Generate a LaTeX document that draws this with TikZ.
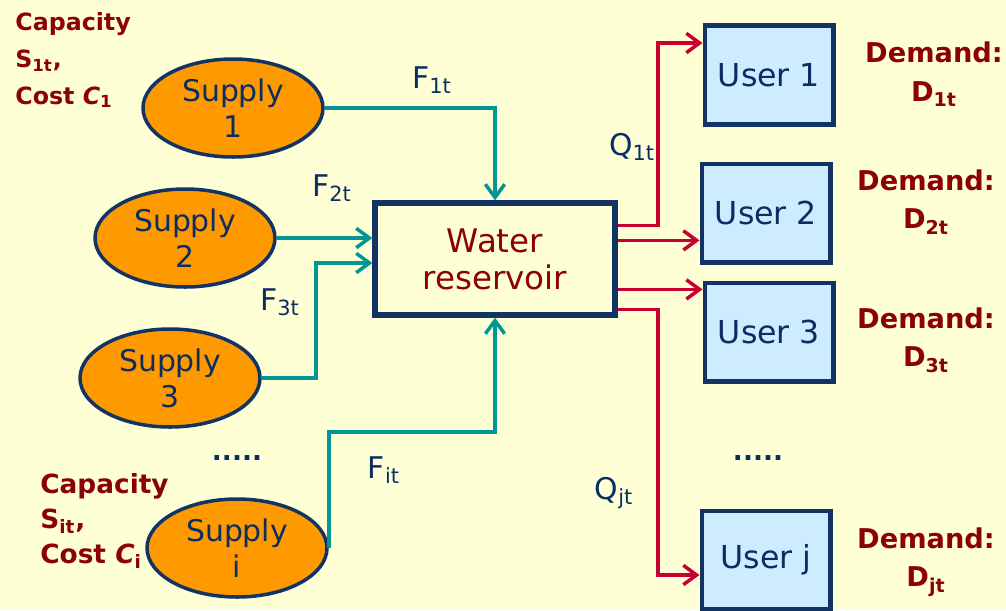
\documentclass[tikz,border=0pt]{standalone}
\usepackage{fontspec}
\setmainfont{DejaVu Sans}
\usetikzlibrary{arrows.meta,positioning,calc,shapes.geometric}
\definecolor{paper}{RGB}{255,255,214}
\definecolor{navy}{RGB}{18,52,100}
\definecolor{supplyorange}{RGB}{255,153,0}
\definecolor{userblue}{RGB}{206,236,255}
\definecolor{flowteal}{RGB}{0,150,150}
\definecolor{deliv}{RGB}{200,0,50}
\definecolor{wine}{RGB}{140,0,10}
\definecolor{inkblue}{RGB}{10,45,100}

\begin{document}
\begin{tikzpicture}[
  x=0.02cm, y=-0.02cm,
  supply/.style={
    ellipse,
    draw=navy,
    line width=2pt,
    fill=supplyorange,
    minimum width=3.6cm,
    minimum height=1.96cm,
    inner sep=0pt,
    align=center,
    text=inkblue,
    font=\fontsize{17}{20.5}\selectfont
  },
  reservoir/.style={
    draw=navy,
    line width=3pt,
    fill=paper,
    minimum width=4.8cm,
    minimum height=2.24cm,
    align=center,
    text=wine,
    font=\fontsize{18.5}{21}\selectfont
  },
  user/.style={
    draw=navy,
    line width=2.3pt,
    fill=userblue,
    minimum width=2.58cm,
    minimum height=1.98cm,
    text=inkblue,
    font=\fontsize{18}{21}\selectfont
  },
  lbl/.style={text=inkblue, font=\fontsize{17}{20}\selectfont},
  dem/.style={text=wine, align=center, font=\bfseries\fontsize{15.5}{22}\selectfont},
  inflow/.style={draw=flowteal, line width=2pt, -{Straight Barb[length=7.5pt,width=11pt,line width=2pt]}},
  outflow/.style={draw=deliv, line width=2pt, -{Straight Barb[length=7.5pt,width=11pt,line width=2pt]}}
]
\fill[paper] (0,0) rectangle (1006,610);
\useasboundingbox (0,0) rectangle (1006,610);

% supplies
\node[supply] (s1) at (233,108) {Supply\\1};
\node[supply] (s2) at (185,238) {Supply\\2};
\node[supply] (s3) at (170,378) {Supply\\3};
\node[supply] (si) at (237,548) {Supply\\i};

% reservoir and users
\node[reservoir] (res) at (495,259) {Water\\reservoir};
\node[user] (u1) at (769,75) {User 1};
\node[user] (u2) at (766,213) {User 2};
\node[user] (u3) at (769,332) {User 3};
\node[user] (uj) at (766,560) {User j};

% capacities and demands
\node[text=wine, align=left, anchor=north west, inner sep=0pt,
  font=\bfseries\fontsize{13.5}{21}\selectfont] (cap1) at (15,12)
  {Capacity\\S\textsubscript{1t},\\Cost \textit{C}\textsubscript{1}};
\node[text=wine, align=left, anchor=north west, inner sep=0pt,
  font=\bfseries\fontsize{15}{20}\selectfont] (capi) at (40,473)
  {Capacity\\S\textsubscript{it},\\Cost \textit{C}\textsubscript{i}};
\node[dem] (d1) at (934,74) {Demand:\\D\textsubscript{1t}};
\node[dem] (d2) at (926,202) {Demand:\\D\textsubscript{2t}};
\node[dem] (d3) at (926,340) {Demand:\\D\textsubscript{3t}};
\node[dem] (dj) at (926,562) {Demand:\\D\textsubscript{jt}};

% flow labels
\node[lbl] (f1) at (432,80) {F\textsubscript{1t}};
\node[lbl] (f2) at (332,188) {F\textsubscript{2t}};
\node[lbl] (f3) at (280,302) {F\textsubscript{3t}};
\node[lbl] (fi) at (384,470) {F\textsubscript{it}};
\node[lbl] (q1) at (632,147) {Q\textsubscript{1t}};
\node[lbl] (qj) at (614,493) {Q\textsubscript{jt}};
\node[lbl, font=\bfseries\fontsize{15}{18}\selectfont] (dots1) at (237,458) {.....};
\node[lbl, font=\bfseries\fontsize{15}{18}\selectfont] (dots2) at (758,458) {.....};

% inflows
\coordinate (b3) at (316,263);
\coordinate (bi) at (495,432);
\draw[inflow] (s1.east) -| (res.north);
\draw[inflow] (s2.east) -- (s2.east -| res.west);
\draw[inflow] (s3.east) -| (b3) -- (b3 -| res.west);
\draw[inflow] (si.east) |- (bi) -- (res.south);

% outflows
\coordinate (o1) at ($(res.north east)+(0,25)$);
\coordinate (o2) at ($(res.north east)+(0,40)$);
\coordinate (o3) at ($(res.north east)+(0,89)$);
\coordinate (oj) at ($(res.south east)+(0,-8)$);
\coordinate (t1) at (658,43);
\coordinate (tj) at (658,575);
\draw[outflow] (o1) -| (t1) -- (t1 -| u1.west);
\draw[outflow] (o2) -- (o2 -| u2.west);
\draw[outflow] (o3) -- (o3 -| u3.west);
\draw[outflow] (oj) -| (tj) -- (tj -| uj.west);
\end{tikzpicture}
\end{document}
